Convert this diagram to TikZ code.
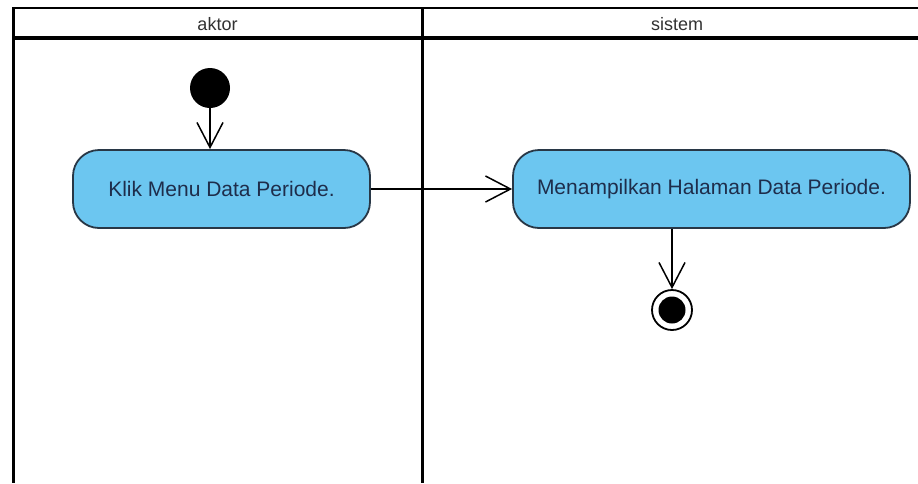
\documentclass[tikz,border=0pt]{standalone}
\usepackage{fontspec}
\setmainfont{Liberation Sans}
\usetikzlibrary{arrows.meta}
\definecolor{actfill}{RGB}{108,198,240}
\definecolor{actdraw}{RGB}{40,55,70}
\definecolor{acttext}{RGB}{30,45,75}
\definecolor{hdrtext}{RGB}{50,50,50}
\tikzset{
  lane/.style={line width=3pt, black},
  hdr/.style={text=hdrtext, font=\fontsize{18}{20}\selectfont},
  action/.style={draw=actdraw, fill=actfill, line width=1.8pt, rounded corners=26pt,
    minimum height=78pt, text=acttext, font=\fontsize{21}{24}\selectfont, inner sep=0pt},
  flow/.style={line width=1.5pt, black, -{Straight Barb[length=25pt,width=26pt,line width=1.5pt]}},
}
\begin{document}
\begin{tikzpicture}[x=1pt,y=-1pt]
\useasboundingbox[fill=white] (0,0) rectangle (918,483);
% swimlanes
\draw[line width=2.5pt] (13,8) -- (918,8);
\draw[line width=3.5pt] (13,38) -- (918,38);
\draw[lane] (13,7) -- (13,483);
\draw[lane] (422,7) -- (422,483);
\node[hdr] (haktor) at (217.5,24) {aktor};
\node[hdr] (hsistem) at (677,24) {sistem};
% nodes
\node[circle, fill=black, minimum size=40pt, inner sep=0pt] (start) at (210,88) {};
\node[action, minimum width=297pt] (klik) at (221.5,189) {Klik Menu Data Periode.};
\node[action, minimum width=397pt] (tampil) at (711.5,189) {Menampilkan Halaman Data Periode.};
\node[circle, draw=black, line width=1.8pt, fill=white, minimum size=40pt, inner sep=0pt] (end) at (672,310) {};
\node[circle, fill=black, minimum size=27pt, inner sep=0pt] (endin) at (end.center) {};
% flows
\draw[flow] (start.south) -- (start |- klik.north);
\draw[flow] (klik.east) -- (tampil.west);
\draw[flow] (end |- tampil.south) -- (end.north);
\end{tikzpicture}
\end{document}
